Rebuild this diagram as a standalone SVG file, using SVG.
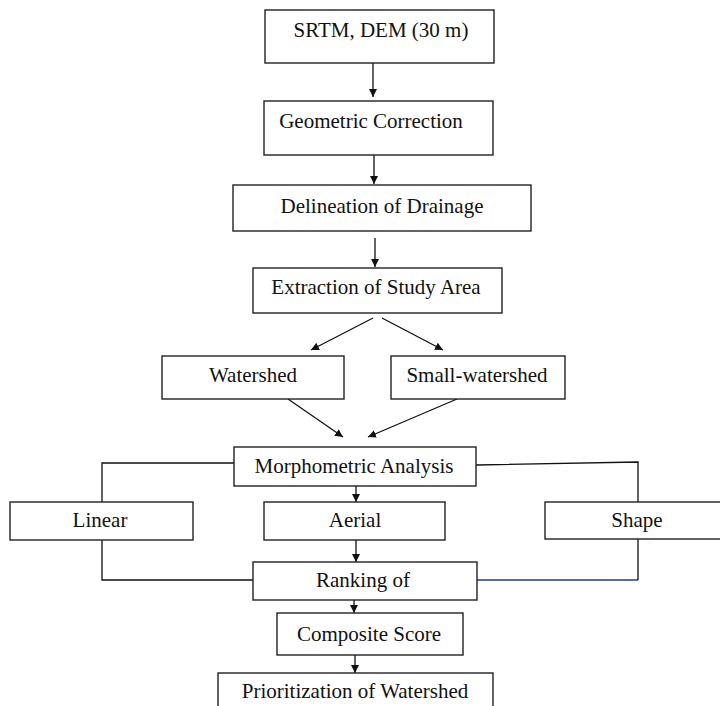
<svg xmlns="http://www.w3.org/2000/svg" width="720" height="706" viewBox="0 0 720 706">
<defs>
<style>
.box{fill:#fff;stroke:#222;stroke-width:1.4}
.ln{fill:none;stroke:#111;stroke-width:1.3}
.blue{fill:none;stroke:#1f3a8a;stroke-width:1.3}
</style>
<marker id="ah" viewBox="0 0 10 10" refX="10" refY="5" markerWidth="8" markerHeight="8" markerUnits="userSpaceOnUse" orient="auto">
<path d="M0,0 L10,5 L0,10 z" fill="#111"/>
</marker>
</defs>
<rect width="720" height="706" fill="#fff"/>
<g id="connectors">
<line class="ln" x1="373" y1="63" x2="373" y2="97" marker-end="url(#ah)"/>
<line class="ln" x1="374" y1="155" x2="374" y2="184" marker-end="url(#ah)"/>
<line class="ln" x1="375" y1="238" x2="375" y2="267" marker-end="url(#ah)"/>
<line class="ln" x1="373" y1="318" x2="311" y2="350" marker-end="url(#ah)"/>
<line class="ln" x1="382" y1="318" x2="443" y2="350" marker-end="url(#ah)"/>
<line class="ln" x1="288" y1="399" x2="343" y2="437" marker-end="url(#ah)"/>
<line class="ln" x1="457" y1="399" x2="368" y2="437" marker-end="url(#ah)"/>
<polyline class="ln" points="234,463 102,463 102,502"/>
<polyline class="ln" points="476,465 638,462 638,502"/>
<line class="ln" x1="356" y1="486" x2="356" y2="502" marker-end="url(#ah)"/>
<line class="ln" x1="356" y1="540" x2="356" y2="562" marker-end="url(#ah)"/>
<polyline class="ln" points="102,540 102,580 253,580"/>
<polyline class="blue" points="477,580 638,580"/>
<line class="ln" x1="638" y1="539" x2="638" y2="580"/>
<line class="ln" x1="354" y1="600" x2="354" y2="613" marker-end="url(#ah)"/>
<line class="ln" x1="355" y1="655" x2="355" y2="673" marker-end="url(#ah)"/>
</g>
<g font-family="Liberation Serif, serif" font-size="21" fill="#111" text-anchor="middle">
<g id="srtm"><rect class="box" x="265" y="10" width="229" height="53"/><text x="381" y="37">SRTM, DEM (30 m)</text></g>
<g id="geometric"><rect class="box" x="264" y="101" width="229" height="54"/><text x="371" y="128">Geometric Correction</text></g>
<g id="delineation"><rect class="box" x="233" y="185" width="298" height="46"/><text x="382" y="213">Delineation of Drainage</text></g>
<g id="extraction"><rect class="box" x="253" y="268" width="249" height="45"/><text x="376" y="294">Extraction of Study Area</text></g>
<g id="watershed"><rect class="box" x="162" y="356" width="182" height="43"/><text x="253" y="382">Watershed</text></g>
<g id="small-watershed"><rect class="box" x="391" y="356" width="174" height="43"/><text x="477" y="382">Small-watershed</text></g>
<g id="morphometric"><rect class="box" x="234" y="447" width="242" height="39"/><text x="354" y="473">Morphometric Analysis</text></g>
<g id="linear"><rect class="box" x="10" y="502" width="183" height="38"/><text x="100" y="527">Linear</text></g>
<g id="aerial"><rect class="box" x="264" y="502" width="181" height="38"/><text x="355" y="527">Aerial</text></g>
<g id="shape"><rect class="box" x="545" y="502" width="180" height="37"/><text x="637" y="527">Shape</text></g>
<g id="ranking"><rect class="box" x="253" y="562" width="224" height="38"/><text x="363" y="587">Ranking of</text></g>
<g id="composite"><rect class="box" x="277" y="613" width="186" height="42"/><text x="369" y="641">Composite Score</text></g>
<g id="prioritization"><rect class="box" x="218" y="673" width="275" height="50"/><text x="355" y="698">Prioritization of Watershed</text></g>
</g>
</svg>
